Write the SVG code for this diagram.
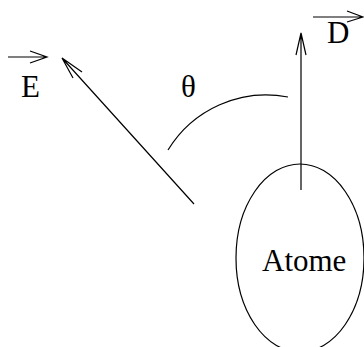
<svg xmlns="http://www.w3.org/2000/svg" width="364" height="347" viewBox="0 0 364 347">
<style>
.ln{fill:none;stroke:#000;stroke-width:1.2}
.t{font-family:"Liberation Serif","Times New Roman",serif;font-size:31px;fill:#000}
</style>
<rect width="364" height="347" fill="#fff"/>
<g id="atome">
<ellipse class="ln" cx="300" cy="258" rx="64" ry="94"/>
<text class="t" x="262" y="271">Atome</text>
</g>
<g id="label-E">
<path class="ln" d="M8 57 H47 M30 51 L47 57 L30 63"/>
<text class="t" x="21" y="97">E</text>
</g>
<g id="label-D">
<path class="ln" d="M313 17 H363 M347 11 L363 17 L347 22"/>
<text class="t" x="327" y="43">D</text>
</g>
<g id="label-theta">
<text class="t" x="181" y="97">θ</text>
</g>
<g id="connectors">
<path class="ln" d="M301 190 V33 M296 55 L301 33 L306 55"/>
<path class="ln" d="M194 204 L62 58 M82 72 L62 58 L73 78"/>
<path class="ln" d="M168 150 A115 115 0 0 1 288 97"/>
</g>
</svg>
